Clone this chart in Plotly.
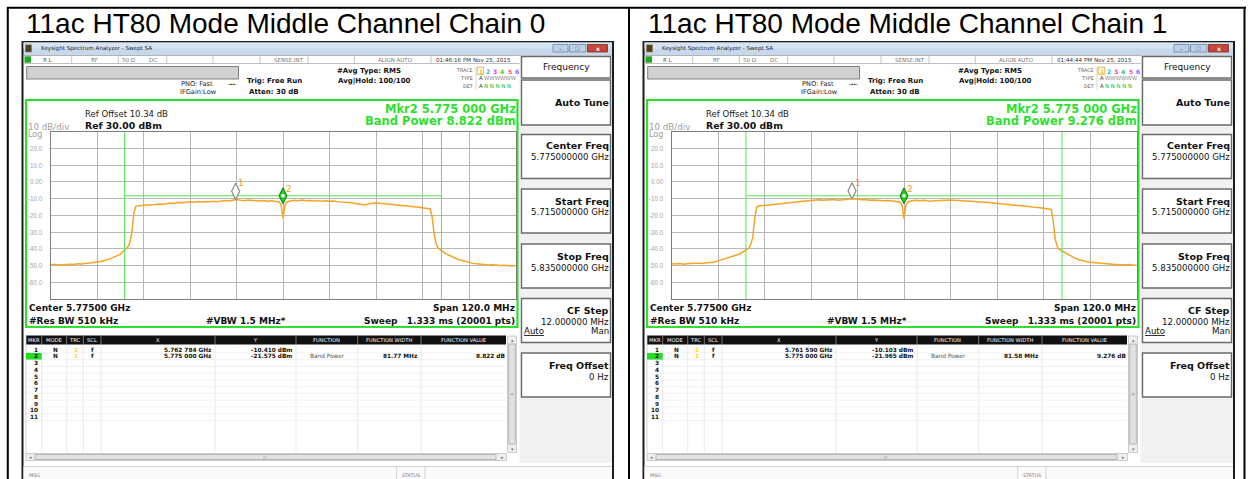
import plotly.graph_objects as go

W, H = 1248, 479

# ---------------- data ----------------
panel_titles = ["11ac HT80 Mode Middle Channel Chain 0", "11ac HT80 Mode Middle Channel Chain 1"]
timestamps = ["01:46:16 PM Nov 25, 2015", "01:44:44 PM Nov 25, 2015"]

center_ghz = 5.775
start_ghz = 5.715
stop_ghz = 5.835
div_ghz = 0.012
ref_dbm = 30.0
bottom_dbm = -70.0
div_db = 10.0
ytick_vals = [20, 10, 0, -10, -20, -30, -40, -50, -60]
ytick_text = ["20.0", "10.0", "0.00", "-10.0", "-20.0", "-30.0", "-40.0", "-50.0", "-60.0"]

freq_mhz = [
    -60, -59, -58, -57, -56, -55, -54, -53, -52, -51,
    -50, -49, -48, -47, -46, -45, -44, -43, -42, -41,
    -40, -39.5, -39, -38.5, -38, -37, -36, -35, -34, -33,
    -32, -31, -30, -29, -28, -27, -26, -25, -24, -23,
    -22, -21, -20, -19, -18, -17, -16, -15, -14, -13,
    -12, -11, -10, -9, -8, -7, -6, -5, -4, -3,
    -2, -1, -0.5, 0, 0.5, 1, 2, 3, 4, 5,
    6, 7, 8, 9, 10, 11, 12, 13, 14, 15,
    16, 17, 18, 19, 20, 21, 22, 23, 24, 25,
    26, 27, 28, 29, 30, 31, 32, 33, 34, 35,
    36, 37, 38, 38.5, 39, 39.5, 40, 41, 42, 43,
    44, 45, 46, 47, 48, 49, 50, 51, 52, 53,
    54, 55, 56, 57, 58, 59, 60]

chain0_dbm = [
    -49.6, -49.3, -49.7, -49.4, -49.5, -49.2, -49.4, -49.0, -49.1, -48.8,
    -48.9, -48.5, -48.2, -47.6, -47.0, -46.3, -45.4, -44.4, -43.3, -41.0,
    -38.8, -36.5, -30.0, -19.0, -14.6, -14.2, -13.9, -14.0, -13.6, -13.5,
    -13.2, -13.4, -12.9, -12.6, -12.8, -12.3, -12.5, -12.1, -11.9, -12.2,
    -11.8, -12.0, -11.7, -11.9, -11.6, -11.8, -11.3, -11.1, -11.4, -10.9,
    -10.5, -10.9, -11.2, -10.8, -11.1, -11.0, -11.4, -11.2, -11.6, -11.3,
    -11.7, -12.0, -13.5, -21.6, -13.8, -12.0, -11.4, -11.0, -11.2, -10.9,
    -11.3, -11.1, -11.4, -11.2, -11.5, -11.3, -11.6, -11.4, -11.8, -12.0,
    -12.3, -12.1, -12.6, -13.0, -13.4, -13.8, -13.2, -12.6, -12.4, -12.7,
    -12.9, -13.2, -13.5, -13.7, -14.0, -14.2, -14.5, -14.7, -14.9, -15.1,
    -15.4, -15.7, -16.2, -21.0, -31.0, -37.0, -39.5, -41.2, -42.9, -44.0,
    -45.2, -46.1, -46.9, -47.6, -48.2, -48.7, -49.0, -49.3, -49.4, -49.7,
    -49.6, -49.9, -50.0, -49.8, -50.1, -50.3, -50.2]

chain1_dbm = [
    -48.9, -49.1, -48.8, -49.2, -48.9, -49.0, -48.7, -48.6, -48.8, -48.4,
    -48.3, -48.0, -47.2, -46.5, -46.0, -45.3, -44.5, -43.6, -42.5, -41.2,
    -39.6, -37.0, -33.0, -21.0, -14.8, -14.3, -14.1, -13.9, -13.6, -13.3,
    -13.0, -12.8, -12.6, -12.3, -12.0, -11.8, -11.5, -11.3, -11.0, -10.9,
    -10.7, -11.0, -10.8, -10.9, -10.6, -10.9, -10.7, -10.5, -10.3, -10.1,
    -10.4, -10.7, -10.5, -10.9, -10.8, -11.0, -10.9, -11.2, -11.1, -11.4,
    -11.5, -12.0, -13.8, -22.0, -13.9, -12.0, -11.3, -11.0, -11.2, -11.0,
    -11.3, -11.5, -11.2, -11.0, -10.9, -10.6, -10.8, -11.0, -11.1, -11.3,
    -11.2, -11.5, -11.7, -11.9, -12.0, -12.2, -12.4, -12.6, -12.9, -13.1,
    -13.3, -13.5, -13.8, -14.0, -14.3, -14.5, -14.7, -15.0, -15.2, -15.4,
    -15.7, -16.0, -16.5, -23.0, -34.0, -38.5, -40.3, -41.6, -43.0, -44.2,
    -45.4, -46.4, -47.1, -47.6, -48.0, -48.3, -48.6, -48.8, -48.9, -49.1,
    -49.3, -49.2, -49.5, -49.6, -49.4, -49.7, -49.8]

mkr1_ghz = [5.762784, 5.761590]
mkr1_dbm = [-10.410, -10.103]
mkr2_ghz = [5.775000, 5.775000]
mkr2_dbm = [-21.575, -21.965]
band_power_dbm = [8.822, 9.276]
band_width_mhz = [81.77, 81.58]
bracket_dbm = [-8.3, -8.3]

# ---------------- style / layout helpers ----------------
FONT = "DejaVu Sans"
TFONT = "Liberation Sans"
TRACE_C = "#F7A325"
GREEN = "#2EDF2E"
panel_dx = [0, 621]
GX0, GY0, GX1, GY1 = 50.5, 131.7, 515.5, 299.0   # graticule (panel 1) in px

shapes, annots = [], []


def rect(x0, y0, x1, y1, fill=None, line=None, lw=1.0):
    shapes.append(dict(type="rect", xref="paper", yref="paper",
                       x0=x0 / W, x1=x1 / W, y0=1 - y1 / H, y1=1 - y0 / H,
                       fillcolor=fill if fill else "rgba(0,0,0,0)",
                       line=dict(color=line if line else "rgba(0,0,0,0)", width=lw if line else 0),
                       layer="below"))


def seg(x0, y0, x1, y1, color, lw=1.0):
    shapes.append(dict(type="line", xref="paper", yref="paper",
                       x0=x0 / W, x1=x1 / W, y0=1 - y0 / H, y1=1 - y1 / H,
                       line=dict(color=color, width=lw), layer="below"))


def txt(x, y, s, size=8, color="#111", anchor="left", bold=False, family=FONT):
    if bold:
        s = "<b>" + s + "</b>"
    annots.append(dict(x=x / W, y=1 - y / H, xref="paper", yref="paper", text=s,
                       showarrow=False, xanchor=anchor, yanchor="middle", borderpad=0,
                       font=dict(size=size, color=color, family=family)))


# outer table lines and titles
seg(7, 7.8, 1246, 7.8, "black", 2)
seg(7.8, 7, 7.8, 479, "black", 2)
seg(629, 7, 629, 479, "black", 2)
seg(1244.5, 7, 1244.5, 479, "black", 2)
txt(25, 23.5, panel_titles[0], 28, "#000", family=TFONT)
txt(646.7, 23.5, panel_titles[1], 28, "#000", family=TFONT)

fig = go.Figure()
px_per_db = (GY1 - GY0) / (ref_dbm - bottom_dbm)
tip_db = 8.0 / px_per_db
layout_axes = {}
ROW0, ROWH = 349.5, 6.75

for i in range(2):
    dx = panel_dx[i]

    def R(x0, y0, x1, y1, fill=None, line=None, lw=1.0):
        rect(x0 + dx, y0, x1 + dx, y1, fill, line, lw)

    def S(x0, y0, x1, y1, color, lw=1.0):
        seg(x0 + dx, y0, x1 + dx, y1, color, lw)

    def T(x, y, s, size=8, color="#111", anchor="left", bold=False):
        txt(x + dx, y, s, size, color, anchor, bold)

    # window frame + title bar
    R(21.5, 41, 614, 479, "#1C1C1C")
    R(23.5, 42.5, 612, 55.5, "#C7D8EC")
    R(23.5, 42.5, 612, 48.5, "#D5E3F3")
    R(25.5, 44.8, 31.5, 52, "#4B3E22", "#9C8040", 0.6)
    T(40, 49, "Keysight Spectrum Analyzer - Swept SA", 5.6, "#1E1E1E")
    R(553, 44.5, 568, 52, "#BCD0E8", "#6F86A6", 0.8)
    R(569.5, 44.5, 586, 52, "#BCD0E8", "#6F86A6", 0.8)
    R(587.5, 44.5, 607.5, 52, "#C8453A", "#7D2A22", 0.8)
    T(560.5, 48.5, "–", 6, "#44546A", "center")
    T(577.8, 48.5, "□", 5, "#44546A", "center")
    T(597.5, 48.3, "x", 6, "#FFFFFF", "center", True)
    R(23.5, 55.5, 612, 479, "#FFFFFF")

    # status row
    S(23.5, 55.5, 520, 55.5, "#B0B0B0", 0.8)
    S(23.5, 63.5, 520, 63.5, "#B0B0B0", 0.8)
    for xs in [71.7, 118.3, 166.7, 213, 260, 308, 354.3, 431]:
        S(xs, 55.5, xs, 63.5, "#B8B8B8", 0.8)
    R(24.5, 56.3, 31, 62.7, "#1FA81F")
    T(41.5, 59.6, "R L", 5.5, "#555")
    T(95, 59.6, "RF", 5.5, "#777", "center")
    T(120.5, 59.6, "50 Ω", 5.5, "#777")
    T(148, 59.6, "DC", 5.5, "#777")
    T(289, 59.6, "SENSE:INT", 5.5, "#777", "center")
    T(395.5, 59.6, "ALIGN AUTO", 5.5, "#777", "center")
    T(473, 59.6, timestamps[i], 5.6, "#333", "center")

    # settings area
    R(26.7, 66.5, 238.5, 79, "#D2D2D2", "#7F7F7F", 1)
    T(180, 83.7, "PNO: Fast", 6.6, "#222")
    T(232, 83.7, "→←", 5, "#222", "center")
    T(179, 92.3, "IFGain:Low", 6.6, "#222")
    T(246, 80.7, "Trig: Free Run", 7, "#111", bold=True)
    T(247.5, 91.7, "Atten: 30 dB", 7, "#111", bold=True)
    T(336, 71, "#Avg Type: RMS", 7, "#111", bold=True)
    T(336.5, 81, "Avg|Hold: 100/100", 7, "#111", bold=True)

    T(474, 70.7, "TRACE", 4.8, "#555", "right")
    T(474, 78, "TYPE", 4.8, "#555", "right")
    T(474, 86.3, "DET", 4.8, "#555", "right")
    S(476, 66.5, 476, 89.5, "#B8B8B8", 0.6)
    trace_cols = ["#E6C800", "#00BFEF", "#F030F0", "#33CC33", "#FF4F7F", "#8A5CFF"]
    R(477.3, 67.2, 483.7, 74.6, None, "#F0A020", 0.8)
    for k in range(6):
        T(480.5 + k * 7.3, 71, str(k + 1), 6, trace_cols[k], "center", True)
    T(478, 78, "A", 5.4, "#333")
    T(482.5, 78, "WWWWWW", 5.4, "#8A8A8A")
    T(478, 86.3, "A", 5.4, "#333")
    T(483, 86.3, "N N N N N", 5.4, "#22BB22")

    # green plot frame
    R(26, 100, 517.5, 327, "#FFFFFF", GREEN, 2.2)
    T(84.3, 114, "Ref Offset 10.34 dB", 8.5, "#1A1A1A")
    T(84.3, 125, "Ref %.2f dBm" % ref_dbm, 9.3, "#111", bold=True)
    T(26.7, 126.5, "%d dB/div" % div_db, 8.7, "#A0A0A0")
    T(27.2, 134, "Log", 8, "#A0A0A0")
    sm2 = "%.6f" % mkr2_ghz[i]
    T(516.5, 109.3, "Mkr2 %s GHz" % (sm2[:5] + " " + sm2[5:]), 11.5, GREEN, "right", True)
    T(516.5, 121.3, "Band Power %.3f dBm" % band_power_dbm[i], 11.5, GREEN, "right", True)
    T(28.3, 307.7, "Center %.5f GHz" % center_ghz, 9, "#111", bold=True)
    T(515.5, 307.7, "Span %.1f MHz" % ((stop_ghz - start_ghz) * 1000), 9, "#111", "right", True)
    T(28.3, 320.7, "#Res BW 510 kHz", 9, "#111", bold=True)
    T(246, 320.7, "#VBW 1.5 MHz*", 9, "#111", "center", True)
    T(515.5, 320.7, "Sweep\u00a0\u00a0 1.333 ms (20001 pts)", 9, "#111", "right", True)

    # y graticule labels
    ya = "y" if i == 0 else "y2"
    xa = "x" if i == 0 else "x2"
    for v, s in zip(ytick_vals, ytick_text):
        annots.append(dict(x=(44 + dx) / W, y=v, xref="paper", yref=ya, text=s, showarrow=False,
                           xanchor="right", yanchor="middle", borderpad=0,
                           font=dict(size=6.3, color="#A6A6A6", family=TFONT)))

    # marker table
    bounds = [41.7, 66.7, 83.3, 101, 215, 296, 357.7, 421]
    R(26, 335.5, 506, 344.5, "#111111")
    for b in bounds:
        S(b, 335.5, b, 344.5, "#8A8A8A", 0.8)
        S(b, 344.5, b, 452.5, "#E3E3E3", 0.8)
    S(26, 335.5, 26, 452.5, "#C8C8C8", 0.8)
    heads = [("MKR", 33.8), ("MODE", 54.2), ("TRC", 75), ("SCL", 92.2), ("X", 158), ("Y", 255.5),
             ("FUNCTION", 326.9), ("FUNCTION WIDTH", 389.4), ("FUNCTION VALUE", 463.5)]
    for s, xc in heads:
        T(xc, 340, s, 5.2, "#FFFFFF", "center")
    for k in range(11):
        S(26, ROW0 + 3.4 + k * ROWH, 506, ROW0 + 3.4 + k * ROWH, "#ECECEC", 0.7)
    R(26, 353, 41.7, 359.6, "#22DD22")
    for r in range(11):
        T(38.8, ROW0 + r * ROWH, str(r + 1), 5.8, "#111", "right", True)
    rows = [(mkr1_ghz[i], mkr1_dbm[i], False), (mkr2_ghz[i], mkr2_dbm[i], True)]
    for r, (fx, fy, bp) in enumerate(rows):
        y = ROW0 + r * ROWH
        T(55, y, "N", 5.8, "#111", "center", True)
        T(76, y, "1", 5.8, "#F0E000", "center", True)
        T(92.2, y, "f", 5.8, "#111", "center", True)
        sx = "%.6f" % fx
        T(213.3, y, sx[:5] + " " + sx[5:] + " GHz", 5.8, "#111", "right", True)
        T(293.3, y, "%.3f dBm" % fy, 5.8, "#111", "right", True)
        if bp:
            T(327.5, y, "Band Power", 5.8, "#555", "center")
            T(419, y, "%.2f MHz" % band_width_mhz[i], 5.8, "#111", "right", True)
            T(506.5, y, "%.3f dB" % band_power_dbm[i], 5.8, "#111", "right", True)

    # scrollbars
    R(507.5, 336, 516.5, 452.5, "#EFEFEF", "#C0C0C0", 0.8)
    R(508.7, 344, 515.3, 444, "#E2E2E2", "#A9A9A9", 0.8)
    T(512, 339.6, "▴", 5, "#777", "center")
    T(512, 448.6, "▾", 5, "#777", "center")
    T(512, 394, "≡", 5, "#999", "center")
    R(26, 453.5, 506.5, 460.5, "#EFEFEF", "#C0C0C0", 0.8)
    R(35, 454.5, 496, 459.5, "#E2E2E2", "#A9A9A9", 0.8)
    T(30, 457, "◂", 5, "#777", "center")
    T(502, 457, "▸", 5, "#777", "center")
    T(265, 457, "III", 4, "#999", "center")

    # message bar
    R(23.5, 466.5, 612, 479, "#FAFAFA")
    S(23.5, 466.5, 612, 466.5, "#C8C8C8", 0.8)
    S(396.7, 466.5, 396.7, 479, "#C8C8C8", 0.8)
    S(425, 466.5, 425, 479, "#C8C8C8", 0.8)
    T(27.5, 475, "MSG", 4.8, "#777")
    T(411, 475, "STATUS", 4.8, "#777", "center")

    # softkey column
    R(519.5, 55.5, 612, 463, "#F1F1F1")
    for (y0, y1) in [(56.5, 78), (80, 125), (134.5, 178.5), (189, 233), (244, 288), (298.5, 342.5), (353, 397)]:
        R(521.5, y0, 610.5, y1, "#FFFFFF", "#6A6A6A", 1.4)
    T(566, 67.5, "Frequency", 9, "#111", "center")
    T(609.5, 102.3, "Auto Tune", 9.5, "#111", "right", True)
    T(609.5, 145.7, "Center Freq", 9.5, "#111", "right", True)
    T(609.5, 156.7, "%.9f GHz" % center_ghz, 8.6, "#111", "right")
    T(609.5, 201, "Start Freq", 9.5, "#111", "right", True)
    T(609.5, 212, "%.9f GHz" % start_ghz, 8.6, "#111", "right")
    T(609.5, 256.7, "Stop Freq", 9.5, "#111", "right", True)
    T(609.5, 267.7, "%.9f GHz" % stop_ghz, 8.6, "#111", "right")
    T(609.5, 310, "CF Step", 9.5, "#111", "right", True)
    T(609.5, 321.7, "%.6f MHz" % (div_ghz * 1000), 8.6, "#111", "right")
    T(523, 330.7, "<u>Auto</u>", 8.6, "#111")
    T(609.5, 330.7, "Man", 8.6, "#111", "right")
    T(609.5, 365, "Freq Offset", 9.5, "#111", "right", True)
    T(609.5, 376.7, "0 Hz", 8.6, "#111", "right")

    # ---------------- data traces ----------------
    levels = chain0_dbm if i == 0 else chain1_dbm
    half_w = band_width_mhz[i] / 2000.0
    fig.add_trace(go.Scatter(x=[center_ghz + f / 1000.0 for f in freq_mhz], y=levels, mode="lines",
                             line=dict(color=TRACE_C, width=1.5), xaxis=xa, yaxis=ya, hoverinfo="skip"))
    # band power bracket
    fig.add_trace(go.Scatter(x=[center_ghz - half_w, center_ghz - half_w, None,
                                center_ghz + half_w, center_ghz + half_w, None,
                                center_ghz - half_w, center_ghz + half_w],
                             y=[bottom_dbm, ref_dbm, None, bottom_dbm, ref_dbm, None,
                                bracket_dbm[i], bracket_dbm[i]],
                             mode="lines", line=dict(color="#55E855", width=1), xaxis=xa, yaxis=ya,
                             hoverinfo="skip"))
    # marker 1 (gray open diamond)
    fig.add_trace(go.Scatter(x=[mkr1_ghz[i]], y=[mkr1_dbm[i] + tip_db], mode="markers",
                             marker=dict(symbol="diamond-tall", size=11.5, color="#FFFFFF",
                                         line=dict(color="#8C8C8C", width=1.2)),
                             xaxis=xa, yaxis=ya, hoverinfo="skip"))
    # marker 2 (active, green)
    fig.add_trace(go.Scatter(x=[mkr2_ghz[i]], y=[bracket_dbm[i]], mode="markers",
                             marker=dict(symbol="diamond-tall", size=11.5, color="#22CC22",
                                         line=dict(color="#137A13", width=1)),
                             xaxis=xa, yaxis=ya, hoverinfo="skip"))
    fig.add_trace(go.Scatter(x=[mkr2_ghz[i]], y=[bracket_dbm[i]], mode="markers",
                             marker=dict(symbol="circle", size=3.5, color="#FFFFFF"),
                             xaxis=xa, yaxis=ya, hoverinfo="skip"))
    annots.append(dict(x=mkr1_ghz[i], y=mkr1_dbm[i] + tip_db, xref=xa, yref=ya, text="1",
                       showarrow=False, xshift=5.5, yshift=8, font=dict(size=9, color="#F0A020", family=FONT)))
    annots.append(dict(x=mkr2_ghz[i], y=bracket_dbm[i], xref=xa, yref=ya, text="2",
                       showarrow=False, xshift=6, yshift=7, font=dict(size=9, color="#F0A020", family=FONT)))

    xkey = "xaxis" if i == 0 else "xaxis2"
    ykey = "yaxis" if i == 0 else "yaxis2"
    layout_axes[xkey] = dict(domain=[(GX0 + dx) / W, (GX1 + dx) / W], range=[start_ghz, stop_ghz],
                             tick0=start_ghz, dtick=div_ghz, showgrid=True, gridcolor="#B7B7B7",
                             gridwidth=1, showticklabels=False, ticks="", zeroline=False,
                             showline=True, linecolor="#7C7C7C", linewidth=1.4, mirror=True,
                             fixedrange=True, anchor=ya)
    layout_axes[ykey] = dict(domain=[1 - GY1 / H, 1 - GY0 / H], range=[bottom_dbm, ref_dbm],
                             tick0=bottom_dbm, dtick=div_db, showgrid=True, gridcolor="#B7B7B7",
                             gridwidth=1, showticklabels=False, ticks="", zeroline=False,
                             showline=True, linecolor="#7C7C7C", linewidth=1.4, mirror=True,
                             fixedrange=True, anchor=xa)

fig.update_layout(width=W, height=H, margin=dict(l=0, r=0, t=0, b=0),
                  paper_bgcolor="#FFFFFF", plot_bgcolor="#FFFFFF", showlegend=False,
                  shapes=shapes, annotations=annots, **layout_axes)

fig.write_html("out.html", config={"displayModeBar": False},
               post_script="document.body.style.margin='0';document.body.style.overflow='hidden';")
